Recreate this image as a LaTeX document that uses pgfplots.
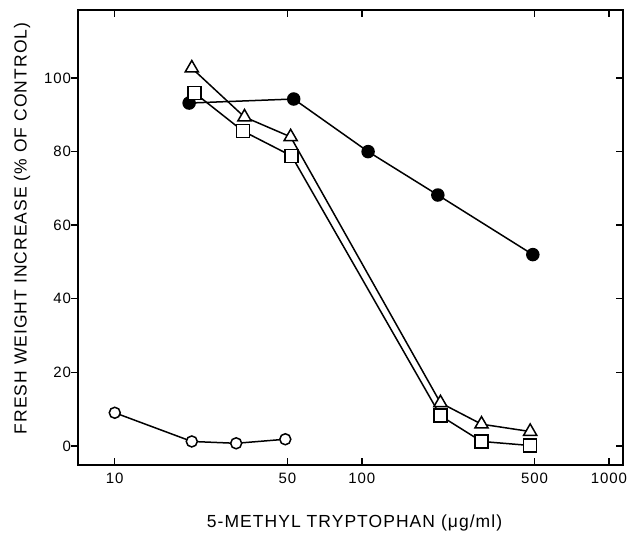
\documentclass[border=0pt]{standalone}
\usepackage{fontspec}
\setmainfont{Liberation Sans}[LetterSpace=6]
\usepackage{pgfplots}
\pgfplotsset{compat=1.18}
\begin{document}
\begin{tikzpicture}
\begin{axis}[
  name=main,
  scale only axis, width=545pt, height=455pt,
  xmode=log, xmin=7.1, xmax=1140, ymin=-5.2, ymax=118.5,
  xtick={10,50,100,500,1000},
  ytick={0,20,40,60,80,100},
  xminorticks=false, yminorticks=false,
  axis line style={line width=1.4pt},
  major tick length=7pt,
  tick style={line width=1.4pt, black},
  xticklabels={10,50,100,500,1000},
  yticklabels={0,20,40,60,80,100},
  xtick align=inside,
  ytick pos=left,
  ytick align=outside,
  tick label style={font=\fontsize{15}{15}\selectfont},
  xticklabel style={yshift=-4pt},
  yticklabel style={xshift=3.5pt},
  ylabel={FRESH WEIGHT INCREASE (\% OF CONTROL)},
  xlabel={5-METHYL TRYPTOPHAN (μg/ml)},
  label style={font=\fontsize{17.5}{17.5}\selectfont},
  xlabel style={at={(rel axis cs:0.5,0)}, anchor=center, yshift=-58pt, xshift=4pt},
  ylabel style={at={(rel axis cs:0,0.5)}, anchor=center, yshift=56pt, xshift=9pt},
]
% filled circles
\addplot[black, line width=1.5pt, mark=*, mark size=6pt, mark options={fill=black}] coordinates {
 (20,93.2) (53,94.3) (106,80) (203,68.2) (492,52)
};
% open circles
\addplot[black, line width=1.5pt, mark=*, mark size=5.5pt, mark options={fill=white}] coordinates {
 (10,9) (20.5,1.2) (31,0.7) (49,1.8)
};
% squares
\addplot[black, line width=1.5pt, mark=square*, mark size=6.5pt, mark options={fill=white}] coordinates {
 (21,96) (33,85.6) (52,78.8) (208,8.2) (305,1.2) (480,0.1)
};
% triangles
\addplot[black, line width=1.5pt, mark=triangle*, mark size=7.6pt, mark options={fill=white}] coordinates {
 (20.5,102.7) (33.5,89.4) (51.5,84) (208,11.7) (305,5.9) (480,3.9)
};
\end{axis}
\begin{axis}[
  scale only axis, width=545pt, height=455pt,
  xmode=log, xmin=7.1, xmax=1140, ymin=-5.2, ymax=118.5,
  xtick={10,50,100,500,1000},
  ytick={0,20,40,60,80,100},
  xminorticks=false, yminorticks=false,
  axis line style={line width=1.4pt},
  major tick length=7pt,
  tick style={line width=1.4pt, black},
  xticklabels={}, yticklabels={},
  tick align=inside,
  ytick pos=right,
]
\end{axis}
\path (main.north east) ++(12pt,10pt);
\path (main.south west) ++(-78pt,-71pt);
\end{tikzpicture}
\end{document}
